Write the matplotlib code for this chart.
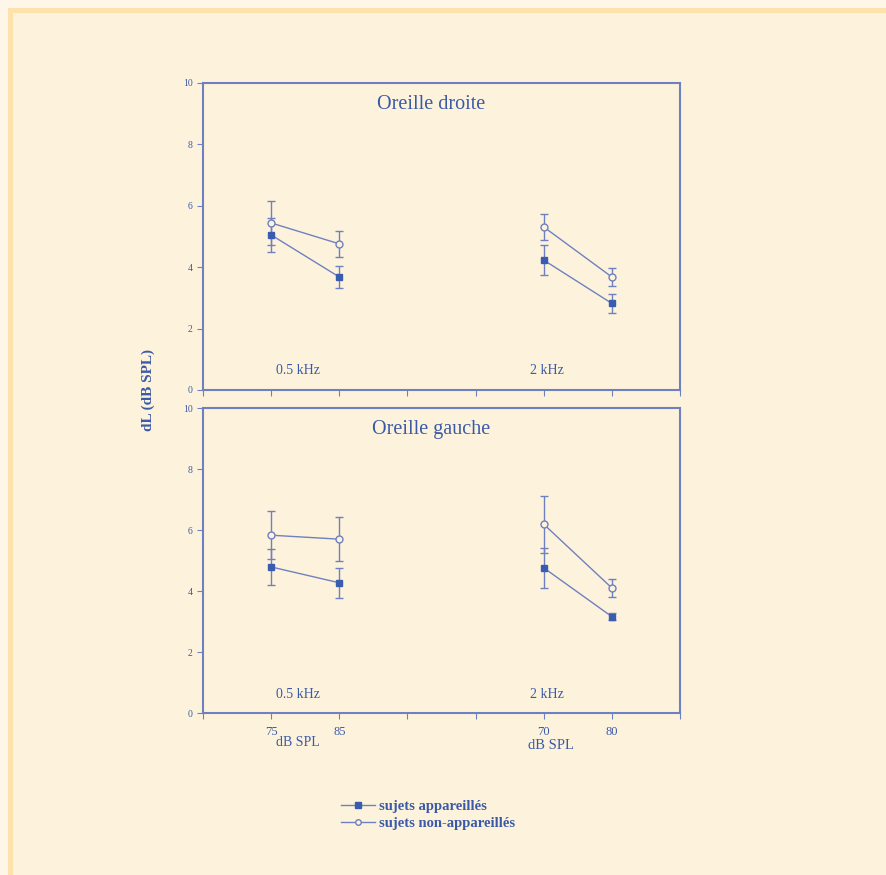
import matplotlib.pyplot as plt
import matplotlib.patches as mpatches
from matplotlib.lines import Line2D

# positions on the x axis (0..7), two levels per frequency
x_pos = [1, 2, 5, 6]
x_labels = ["75", "85", "70", "80"]
freq_labels = ["0.5 kHz", "2 kHz"]

# right ear
droite_app = [5.05, 3.68, 4.23, 2.82]
droite_app_err = [0.56, 0.36, 0.48, 0.32]
droite_non = [5.44, 4.76, 5.31, 3.68]
droite_non_err = [0.72, 0.42, 0.42, 0.28]

# left ear
gauche_app = [4.79, 4.27, 4.76, 3.16]
gauche_app_err = [0.59, 0.49, 0.65, 0.12]
gauche_non = [5.83, 5.70, 6.19, 4.10]
gauche_non_err = [0.78, 0.72, 0.94, 0.30]

bg = "#fdf3dc"
line_col = "#6f80c0"
text_col = "#3a5aa8"

plt.rcParams["font.family"] = ["Liberation Serif", "DejaVu Serif"]

fig = plt.figure(figsize=(8.86, 8.75), dpi=100)
fig.patch.set_facecolor(bg)
# scanned page edge on top and left
fig.add_artist(mpatches.Rectangle((8 / 886, 0), 5 / 886, 1 - 8 / 875, transform=fig.transFigure,
                                  color="#fde2ac", lw=0))
fig.add_artist(mpatches.Rectangle((8 / 886, 1 - 13 / 875), 1, 5 / 875, transform=fig.transFigure,
                                  color="#fde2ac", lw=0))
fig.add_artist(mpatches.Rectangle((0, 0), 8 / 886, 1, transform=fig.transFigure,
                                  color="#fef6e8", lw=0))
fig.add_artist(mpatches.Rectangle((0, 1 - 8 / 875), 1, 8 / 875, transform=fig.transFigure,
                                  color="#fef6e8", lw=0))


def draw_panel(ax, app, app_err, non, non_err, title, bottom):
    ax.set_facecolor(bg)
    for i in (0, 2):
        xs = x_pos[i:i + 2]
        ax.errorbar(xs, non[i:i + 2], yerr=non_err[i:i + 2], color=line_col, lw=1.0,
                    marker="o", ms=5, mfc=bg, mec=line_col, mew=1.0, capsize=3, elinewidth=1.0)
        ax.errorbar(xs, app[i:i + 2], yerr=app_err[i:i + 2], color=line_col, lw=1.0,
                    marker="s", ms=4.5, mfc="#3a5cb0", mec="#3a5cb0", capsize=3, elinewidth=1.0)
    ax.set_xlim(0, 7)
    ax.set_ylim(0, 10)
    ax.set_yticks([0, 2, 4, 6, 8, 10])
    ax.set_xticks(range(8))
    for s in ax.spines.values():
        s.set_color(line_col)
        s.set_linewidth(1.5)
    ax.tick_params(colors=line_col, labelcolor=text_col, labelsize=7, length=4, width=0.8)
    if bottom:
        ax.set_xticks(range(8), ["", *x_labels[:2], "", "", *x_labels[2:], ""])
        ax.tick_params(axis="x", labelsize=9, pad=5)
        ax.text(1.39, -0.95, "dB SPL", color=text_col, fontsize=10, ha="center", va="center")
        ax.text(5.1, -1.08, "dB SPL", color=text_col, fontsize=10.5, ha="center", va="center")
    else:
        ax.set_xticklabels([])
    ax.text(3.35, 9.6, title, color=text_col, fontsize=14.5, ha="center", va="top")
    ax.text(1.39, 0.62, freq_labels[0], color=text_col, fontsize=10, ha="center", va="center")
    ax.text(5.05, 0.62, freq_labels[1], color=text_col, fontsize=10, ha="center", va="center")


ax1 = fig.add_axes([0.2291, 0.5543, 0.5384, 0.3509])
ax2 = fig.add_axes([0.2291, 0.1851, 0.5384, 0.3486])
draw_panel(ax1, droite_app, droite_app_err, droite_non, droite_non_err, "Oreille droite", False)
draw_panel(ax2, gauche_app, gauche_app_err, gauche_non, gauche_non_err, "Oreille gauche", True)

fig.text(148 / 886, 1 - 390 / 875, "dL (dB SPL)", rotation=90, color=text_col, fontsize=11,
         fontweight="bold", ha="center", va="center")

handles = [
    Line2D([], [], color=line_col, lw=1.0, marker="s", ms=4, mfc="#3a5cb0", mec="#3a5cb0"),
    Line2D([], [], color=line_col, lw=1.0, marker="o", ms=4, mfc=bg, mec=line_col),
]
leg = fig.legend(handles, ["sujets appareillés", "sujets non-appareillés"], loc="center left",
                 bbox_to_anchor=(334 / 886, 1 - 815 / 875), frameon=False, fontsize=10.5,
                 handlelength=2.3, handletextpad=0.3, labelspacing=0.3, borderpad=0)
for t in leg.get_texts():
    t.set_color(text_col)
    t.set_fontweight("bold")

fig.savefig("out.png", dpi=100, facecolor=bg)
